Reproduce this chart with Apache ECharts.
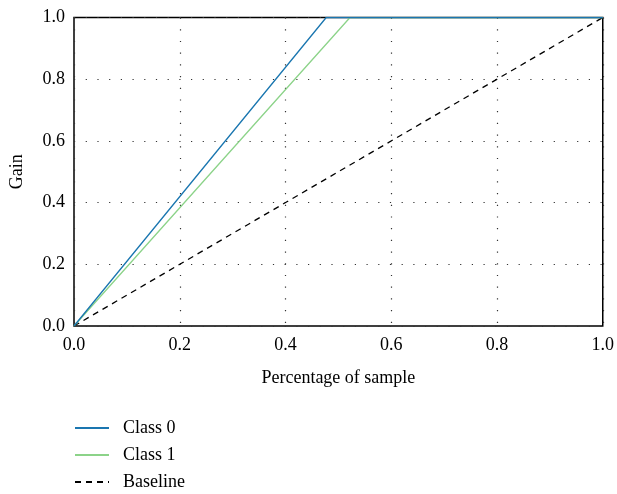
<!DOCTYPE html>
<html>
<head>
<meta charset="utf-8">
<script src="https://cdn.jsdelivr.net/npm/echarts@6/dist/echarts.min.js"></script>
<style>
  html, body { margin: 0; padding: 0; background: #fff; }
  #chart { width: 617px; height: 494px; }
</style>
</head>
<body>
<div id="chart"></div>
<script>
// gain curves: [fraction of sample, gain]
const class0Points = [[0, 0], [0.477, 1], [1, 1]]
const class1Points = [[0, 0], [0.522, 1], [1, 1]]
const baselinePoints = [[0, 0], [1, 1]]
const seriesNames = ['Class 0', 'Class 1', 'Baseline']

const serif = '"Liberation Serif", "DejaVu Serif", serif'

const chart = echarts.init(document.getElementById('chart'))

const axisCommon = {
  type: 'value',
  min: 0,
  max: 1,
  interval: 0.2,
  axisLine: { show: false },
  axisTick: { show: false },
  axisLabel: {
    color: '#000',
    fontFamily: serif,
    fontSize: 18,
    formatter: (v) => v.toFixed(1)
  },
  nameTextStyle: { color: '#000', fontFamily: serif, fontSize: 18 },
  splitLine: {
    show: true,
    lineStyle: { color: '#333', width: 1.2, type: [1.2, 10.5] }
  }
}

chart.setOption({
  animation: false,
  grid: {
    left: 73.5,
    right: 14,
    top: 17.5,
    bottom: 168,
    show: true,
    borderColor: '#000',
    borderWidth: 1.5,
    backgroundColor: 'transparent'
  },
  xAxis: {
    ...axisCommon,
    name: 'Percentage of sample',
    nameLocation: 'middle',
    nameGap: 43,
    axisLabel: { ...axisCommon.axisLabel, margin: 10 }
  },
  yAxis: {
    ...axisCommon,
    name: 'Gain',
    nameLocation: 'middle',
    nameGap: 48,
    axisLabel: { ...axisCommon.axisLabel, margin: 9 }
  },
  legend: {
    orient: 'vertical',
    left: 74,
    top: 418,
    padding: 0,
    itemWidth: 34,
    itemHeight: 10,
    itemGap: 7,
    data: seriesNames,
    itemStyle: { opacity: 0 },
    textStyle: { color: '#000', fontFamily: serif, fontSize: 18, lineHeight: 20, padding: [0, 0, 0, 9] }
  },
  series: [
    {
      name: seriesNames[0],
      type: 'line',
      data: class0Points,
      symbol: 'none',
      lineStyle: { color: '#1a76b0', width: 1.3 },
      itemStyle: { color: '#1a76b0' },
      z: 3
    },
    {
      name: seriesNames[1],
      type: 'line',
      data: class1Points,
      symbol: 'none',
      lineStyle: { color: '#8cd389', width: 1.3 },
      itemStyle: { color: '#8cd389' },
      z: 2
    },
    {
      name: seriesNames[2],
      type: 'line',
      data: baselinePoints,
      symbol: 'none',
      lineStyle: { color: '#000', width: 1.3, type: [6, 5] },
      itemStyle: { color: '#000' },
      z: 1
    }
  ]
})
</script>
</body>
</html>
